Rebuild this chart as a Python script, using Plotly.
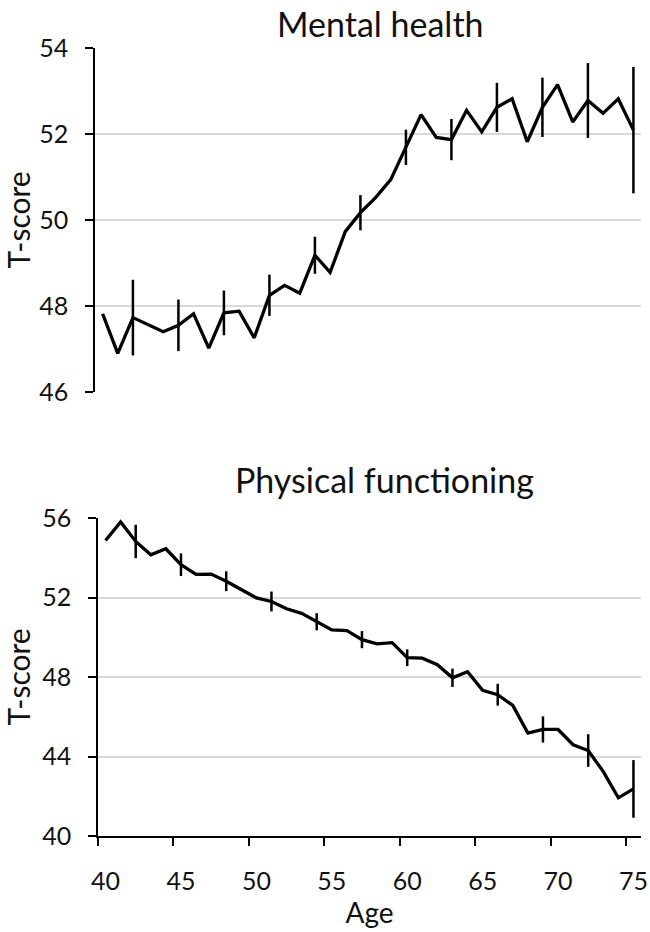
from plotly.graph_objects import Figure, Scatter

ages = list(range(40, 76))

mental = [47.82, 46.90, 47.73, 47.56, 47.40, 47.55, 47.82, 47.02, 47.84, 47.88,
          47.26, 48.25, 48.48, 48.30, 49.18, 48.78, 49.73, 50.17, 50.52, 50.94,
          51.69, 52.45, 51.92, 51.87, 52.55, 52.05, 52.62, 52.82, 51.82, 52.62,
          53.15, 52.28, 52.78, 52.48, 52.82, 52.09]

physical = [54.87, 55.80, 54.82, 54.15, 54.45, 53.65, 53.16, 53.18, 52.82, 52.40,
            51.98, 51.80, 51.43, 51.20, 50.78, 50.37, 50.33, 49.88, 49.67, 49.73,
            48.97, 48.95, 48.62, 47.96, 48.27, 47.33, 47.11, 46.57, 45.18, 45.36,
            45.36, 44.59, 44.30, 43.24, 41.92, 42.37]

# error bars only shown every third year
err_ages = list(range(42, 76, 3))
mental_err = [0.88, 0.60, 0.52, 0.48, 0.43, 0.41, 0.41, 0.48, 0.57, 0.69, 0.87, 1.47]
physical_err = [0.84, 0.57, 0.50, 0.50, 0.43, 0.43, 0.42, 0.46, 0.55, 0.66, 0.82, 1.45]

mental_ticks = [46, 48, 50, 52, 54]
physical_ticks = [40, 44, 48, 52, 56]
age_ticks = list(range(40, 76, 5))

FONT = "Lato"
W, H = 650, 932


def err_array(errs):
    lookup = dict(zip(err_ages, errs))
    return [lookup.get(a, 0) for a in ages]


def ydom(top_px, bottom_px):
    return [1 - bottom_px / H, 1 - top_px / H]


fig = Figure()
fig.add_trace(Scatter(x=ages, y=mental, mode='lines', xaxis='x', yaxis='y',
                      line=dict(color='black', width=3.3),
                      error_y=dict(type='data', array=err_array(mental_err),
                                   color='black', thickness=2.5, width=0)))
fig.add_trace(Scatter(x=ages, y=physical, mode='lines', xaxis='x2', yaxis='y2',
                      line=dict(color='black', width=3.3),
                      error_y=dict(type='data', array=err_array(physical_err),
                                   color='black', thickness=2.5, width=0)))

yaxis_style = dict(showline=True, linecolor='black', linewidth=1.5,
                   ticks='outside', ticklen=8, tickwidth=1.5, tickcolor='black',
                   showgrid=True, gridcolor='#d9d9d9', gridwidth=1.5,
                   zeroline=False, ticklabelstandoff=12, automargin=False,
                   tickfont=dict(family=FONT, size=25, color='#111'),
                   title=dict(text='T-score', font=dict(family=FONT, size=30, color='#111'),
                              standoff=8))

fig.update_layout(
    width=W, height=H,
    margin=dict(l=0, r=0, t=0, b=0),
    plot_bgcolor='white', paper_bgcolor='white',
    showlegend=False,
    xaxis=dict(domain=[95 / W, 641 / W], anchor='y', range=[39.5, 75.5],
               visible=False, automargin=False),
    yaxis=dict(domain=ydom(48, 392), anchor='x', range=[46, 54],
               tickvals=mental_ticks, **yaxis_style),
    xaxis2=dict(domain=[98 / W, 641 / W], anchor='y2', range=[39.5, 75.5],
                showline=True, linecolor='black', linewidth=2,
                showgrid=False, zeroline=False, automargin=False,
                tickvals=age_ticks, ticks='', ticklabelstandoff=22,
                minor=dict(tickvals=[a - 0.5 for a in age_ticks], ticks='outside',
                           ticklen=8, tickwidth=1.5, tickcolor='black', showgrid=False),
                tickfont=dict(family=FONT, size=25, color='#111'),
                title=dict(text='Age', font=dict(family=FONT, size=28, color='#111'),
                           standoff=4)),
    yaxis2=dict(domain=ydom(518, 836), anchor='x2', range=[40, 56],
                tickvals=physical_ticks, **yaxis_style),
    annotations=[
        dict(text='Mental health', x=380 / W, y=1 - 23 / H, xref='paper', yref='paper',
             yanchor='middle', showarrow=False,
             font=dict(family=FONT, size=34, color='#111')),
        dict(text='Physical functioning', x=384 / W, y=1 - 479 / H, xref='paper',
             yref='paper', yanchor='middle', showarrow=False,
             font=dict(family=FONT, size=34, color='#111')),
    ],
)

# drop the browser's default 8px body margin so the figure fills the window
fig.write_html("out.html", config=dict(displayModeBar=False),
               post_script="document.body.style.margin = '0';")
